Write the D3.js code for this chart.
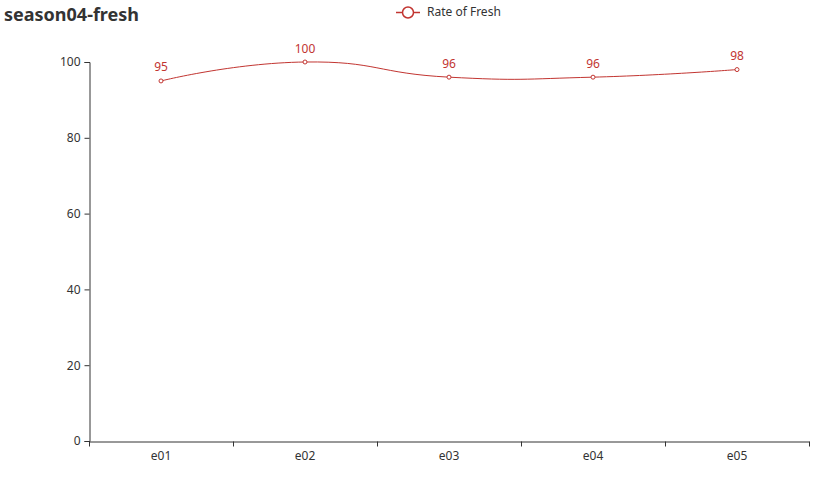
<!DOCTYPE html>
<html><head><meta charset="utf-8">
<script src="https://cdn.jsdelivr.net/npm/d3@7/dist/d3.min.js"></script>
<style>body{margin:0;background:#fff;} text{font-family:"Microsoft YaHei","Noto Sans","Open Sans",sans-serif;}</style>
</head><body>
<svg id="c" width="838" height="481"></svg>
<script>
const categories = ["e01","e02","e03","e04","e05"];
const values = [95,100,96,96,98];
const yTicks = [0,20,40,60,80,100];
const seriesName = "Rate of Fresh";
const title = "season04-fresh";

(function () {
const color = "#c23531", axisColor = "#333";
const svg = d3.select("#c");
const pLeft = 89, pRight = 809, pTop = 62, pBottom = 441;

const x = d3.scaleBand().domain(categories).range([pLeft, pRight]);
const y = d3.scaleLinear().domain([0, 100]).range([pBottom, pTop]);

// title
svg.append("text").attr("x", 4).attr("y", 21).attr("font-size", 18).attr("font-weight", "bold")
  .attr("fill", "#333").text(title);

// legend
const lg = svg.append("g");
lg.append("text").attr("x", 427).attr("y", 16).attr("font-size", 12).attr("fill", "#333").text(seriesName);
lg.append("line").attr("x1", 396).attr("x2", 420).attr("y1", 12.5).attr("y2", 12.5).attr("stroke", color).attr("stroke-width", 1.5);
lg.append("circle").attr("cx", 408).attr("cy", 12.5).attr("r", 5.5).attr("fill", "#fff").attr("stroke", color).attr("stroke-width", 1.5);

// y axis
const ya = svg.append("g").attr("transform", `translate(${pLeft + 0.5},0)`)
  .call(d3.axisLeft(y).tickValues(yTicks).tickSize(5).tickPadding(4));
ya.select(".domain").attr("stroke", axisColor);
ya.selectAll(".tick line").attr("stroke", axisColor);
ya.selectAll(".tick text").attr("fill", "#333").attr("font-size", 12).attr("font-family", null);

// x axis
const xa = svg.append("g").attr("transform", `translate(0,${pBottom + 0.5})`)
  .call(d3.axisBottom(x).tickSize(0).tickPadding(10).tickSizeOuter(0));
xa.select(".domain").attr("stroke", axisColor);
xa.selectAll(".tick text").attr("fill", "#333").attr("font-size", 12).attr("font-family", null);
const bounds = categories.map(c => x(c)).concat([pRight]);
xa.selectAll(".bt").data(bounds).enter().append("line").attr("class", "bt")
  .attr("x1", d => Math.round(d) + 0.5).attr("x2", d => Math.round(d) + 0.5)
  .attr("y1", 0).attr("y2", 5).attr("stroke", axisColor);

// smooth line (echarts-like)
const pts = categories.map((c, i) => [x(c) + x.bandwidth() / 2, y(values[i])]);
const smooth = 0.5;
function smoothPath(p) {
  let d = `M${p[0][0]},${p[0][1]}`;
  let cpx0 = p[0][0], cpy0 = p[0][1];
  for (let i = 1; i < p.length; i++) {
    const [px, py] = p[i];
    let cpx1, cpy1, ncx, ncy;
    if (i < p.length - 1) {
      const prev = p[i - 1], next = p[i + 1];
      const vx = next[0] - prev[0], vy = next[1] - prev[1];
      const l0 = Math.hypot(px - prev[0], py - prev[1]);
      const l1 = Math.hypot(next[0] - px, next[1] - py);
      const r = l1 / (l0 + l1);
      cpx1 = px - vx * smooth * (1 - r); cpy1 = py - vy * smooth * (1 - r);
      ncx = px + vx * smooth * r; ncy = py + vy * smooth * r;
    } else {
      cpx1 = px; cpy1 = py; ncx = px; ncy = py;
    }
    d += `C${cpx0},${cpy0},${cpx1},${cpy1},${px},${py}`;
    cpx0 = ncx; cpy0 = ncy;
  }
  return d;
}
svg.append("path").attr("d", smoothPath(pts)).attr("fill", "none").attr("stroke", color).attr("stroke-width", 1);

svg.selectAll(".pt").data(pts).enter().append("circle").attr("class", "pt")
  .attr("cx", d => d[0]).attr("cy", d => d[1]).attr("r", 2)
  .attr("fill", "#fff").attr("stroke", color).attr("stroke-width", 1);

svg.selectAll(".lbl").data(pts).enter().append("text").attr("class", "lbl")
  .attr("x", d => d[0]).attr("y", d => d[1] - 9.5).attr("text-anchor", "middle")
  .attr("font-size", 12).attr("fill", color).text((d, i) => values[i]);
})();
</script>
</body></html>
